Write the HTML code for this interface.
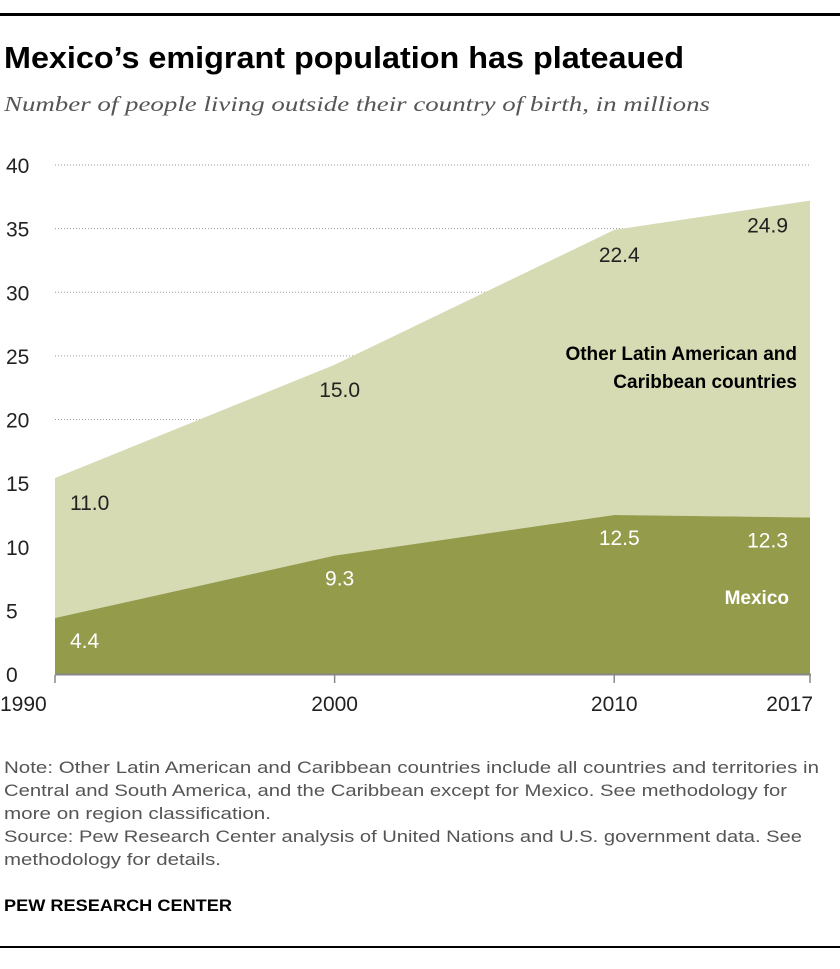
<!DOCTYPE html>
<html><head><meta charset="utf-8"><style>
body{margin:0;background:#fff;width:840px;height:964px;overflow:hidden;font-family:"Liberation Sans",sans-serif}
</style></head><body>
<svg width="840" height="964" xmlns="http://www.w3.org/2000/svg">
<rect x="0" y="13" width="840" height="3" fill="#000"/>
<text x="4" y="68" font-size="31" font-weight="bold" fill="#000" textLength="680" lengthAdjust="spacingAndGlyphs">Mexico’s emigrant population has plateaued</text>
<text x="4" y="111" font-size="21.5" font-style="italic" fill="#555" font-family="Liberation Serif,serif" textLength="706" lengthAdjust="spacingAndGlyphs">Number of people living outside their country of birth, in millions</text>
<g id="plot"></g>
<g font-size="17" fill="#555">
<text x="4" y="773" textLength="815" lengthAdjust="spacingAndGlyphs">Note: Other Latin American and Caribbean countries include all countries and territories in</text>
<text x="4" y="796" textLength="783" lengthAdjust="spacingAndGlyphs">Central and South America, and the Caribbean except for Mexico. See methodology for</text>
<text x="4" y="819" textLength="267" lengthAdjust="spacingAndGlyphs">more on region classification.</text>
<text x="4" y="842" textLength="798" lengthAdjust="spacingAndGlyphs">Source: Pew Research Center analysis of United Nations and U.S. government data. See</text>
<text x="4" y="865" textLength="217" lengthAdjust="spacingAndGlyphs">methodology for details.</text>
</g>
<text x="4" y="911" font-size="17" font-weight="bold" fill="#000" textLength="228" lengthAdjust="spacingAndGlyphs">PEW RESEARCH CENTER</text>
<rect x="0" y="946" width="840" height="2" fill="#000"/>
</svg>
<script>
const years=[1990,2000,2010,2017];
const mexico=[4.4,9.3,12.5,12.3];
const other=[11.0,15.0,22.4,24.9];
const yTicks=[0,5,10,15,20,25,30,35,40];
const NS='http://www.w3.org/2000/svg';
const g=document.getElementById('plot');
const x=v=>55+(v-1990)*(755/27);
const y=v=>674-v*(509/40);
function el(t,a){const e=document.createElementNS(NS,t);for(const k in a)e.setAttribute(k,a[k]);g.appendChild(e);return e;}
yTicks.forEach(t=>{
  if(t>0){const l=el('line',{x1:55,x2:810,y1:y(t),y2:y(t),stroke:'#999','stroke-dasharray':'1,2','stroke-width':1});
  
  }
  const tx=el('text',{x:6,y:y(t)+8,'font-size':21,fill:'#222'});tx.textContent=t;
  
  
});
const topPts=years.map((yr,i)=>x(yr)+','+y(mexico[i]+other[i])).join(' ');
const midPts=years.map((yr,i)=>x(yr)+','+y(mexico[i])).join(' ');
const midRev=years.map((yr,i)=>x(yr)+','+y(mexico[i])).reverse().join(' ');
const a1=el('polygon',{points:topPts+' '+midRev,fill:'#d6dbb3'});


const a2=el('polygon',{points:midPts+' '+x(2017)+','+y(0)+' '+x(1990)+','+y(0),fill:'#949c4c'});


const ax=el('line',{x1:55,x2:811,y1:674.5,y2:674.5,stroke:'#888','stroke-width':2});


years.forEach((yr,i)=>{
  const tk=el('line',{x1:x(yr),x2:x(yr),y1:675,y2:683,stroke:'#888','stroke-width':1.5});
  
  
  const anchor=i==0?'start':(i==3?'end':'middle');
  const xx=i==0?0:(i==3?x(yr)+3:x(yr));
  const t=el('text',{x:xx,y:711,'font-size':21,fill:'#222','text-anchor':anchor});t.textContent=yr;
  
  
  const lx=i==0?x(yr)+15:(i==3?x(yr)-22:x(yr)+5);
  const la=i==3?'end':(i==0?'start':'middle');
  const m=el('text',{x:lx,y:y(mexico[i])+30,'font-size':21,fill:'#fff','text-anchor':la});m.textContent=mexico[i].toFixed(1);
  
  
  const o=el('text',{x:lx,y:y(mexico[i]+other[i])+32,'font-size':21,fill:'#222','text-anchor':la});o.textContent=other[i].toFixed(1);
  
  
});
const l1=el('text',{x:797,y:360,'font-size':19,'font-weight':'bold',fill:'#000','text-anchor':'end'});l1.textContent='Other Latin American and';


const l2=el('text',{x:797,y:388,'font-size':19,'font-weight':'bold',fill:'#000','text-anchor':'end'});l2.textContent='Caribbean countries';


const l3=el('text',{x:789,y:604,'font-size':19,'font-weight':'bold',fill:'#fff','text-anchor':'end'});l3.textContent='Mexico';


</script>
</body></html>
